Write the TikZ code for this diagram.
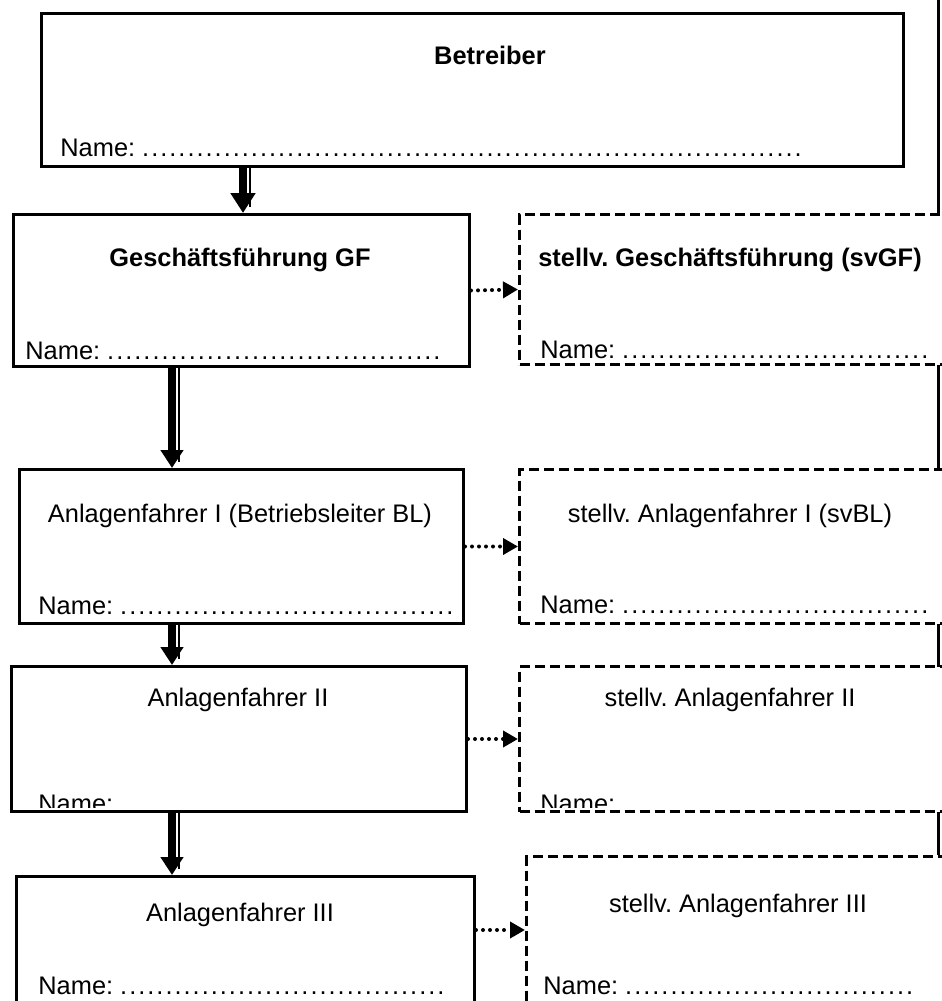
\documentclass[tikz,border=0pt]{standalone}
\usepackage{fontspec}
\setmainfont{Liberation Sans}
\usetikzlibrary{arrows.meta,calc}
\frenchspacing

% a row of #1 dots
\newcommand{\dotrow}[1]{\ifnum#1>0 .\kern1pt\expandafter\dotrow\expandafter{\number\numexpr#1-1\relax}\fi}
\newcommand{\namedots}[1]{Name:\ \dotrow{#1}}

\begin{document}
\begin{tikzpicture}[x=0.5pt,y=-0.5pt,
    every node/.style={font=\fontsize{12.7}{15}\selectfont, inner sep=0pt},
    solidbox/.style={draw, rectangle, line width=1.5pt, fill=white, anchor=north west},
    dashbox/.style={solidbox, dash pattern=on 5pt off 2.5pt},
    title/.style={anchor=base},
    namefield/.style={anchor=base west},
    downarrow/.style={line width=4pt, -{Triangle[length=9pt,width=11pt]}},
    sideline/.style={line width=1pt},
    dotarrow/.style={line width=2pt, line cap=round, dash pattern=on 0pt off 3.5pt,
      -{Triangle[length=7.5pt,width=8pt]}}]
    \useasboundingbox (0,0) rectangle (942,1001);
    \clip (0,0) rectangle (942,1001);

    % line along the right margin
    \draw[line width=1.5pt] (938,-5) -- (938,855);

    % boxes
    \node[solidbox, minimum width=431pt, minimum height=76.5pt] (betreiber) at (40,12) {};
    \node[solidbox, minimum width=228pt, minimum height=76pt] (gf) at (12,213) {};
    \node[dashbox, minimum width=225pt, minimum height=75pt] (svgf) at (518,213) {};
    \node[solidbox, minimum width=222pt, minimum height=77pt] (af1) at (18,468) {};
    \node[dashbox, minimum width=225pt, minimum height=77pt] (svaf1) at (518,468) {};
    \node[solidbox, minimum width=227.5pt, minimum height=72.5pt] (af2) at (10,665) {};
    \node[dashbox, minimum width=225pt, minimum height=72.5pt] (svaf2) at (518,665) {};
    \node[solidbox, minimum width=229pt, minimum height=80pt] (af3) at (15,875) {};
    \node[dashbox, minimum width=221.5pt, minimum height=90pt] (svaf3) at (525,855) {};

    % titles
    \node[title] (betreibert) at (490,64) {\textbf{Betreiber}};
    \node[title] (gft) at (240,266) {\textbf{Geschäftsführung GF}};
    \node[title] (svgft) at (730,266) {\textbf{stellv. Geschäftsführung (svGF)}};
    \node[title] (af1t) at (240,522) {Anlagenfahrer I (Betriebsleiter BL)};
    \node[title] (svaf1t) at (730,522) {stellv. Anlagenfahrer I (svBL)};
    \node[title] (af2t) at (238,706) {Anlagenfahrer II};
    \node[title] (svaf2t) at (730,706) {stellv. Anlagenfahrer II};
    \node[title] (af3t) at (240,921) {Anlagenfahrer III};
    \node[title] (svaf3t) at (738,912) {stellv. Anlagenfahrer III};

    % name fields
    \node[namefield] (betreibern) at (60,156) {\namedots{73}};
    \node[namefield] (gfn) at (25,359) {\namedots{37}};
    \node[namefield] (svgfn) at (540,358) {\namedots{34}};
    \node[namefield] (af1n) at (38,614) {\namedots{37}};
    \node[namefield] (svaf1n) at (540,613) {\namedots{34}};
    \begin{scope}
      \clip (10,665) rectangle (960,807);
      \node[namefield] (af2n) at (38,812) {Name:};
      \node[namefield] (svaf2n) at (540,812) {Name:};
    \end{scope}
    \node[namefield] (af3n) at (38,994) {\namedots{36}};
    \node[namefield] (svaf3n) at (543,994) {\namedots{32}};

    % arrows downwards
    \coordinate (c1) at (243,0);
    \coordinate (d1) at (250,0);
    \coordinate (c2) at (172,0);
    \coordinate (d2) at (179,0);
    \draw[downarrow, -{Triangle[length=10pt,width=12pt]}] (betreiber.south -| c1) -- (gf.north -| c1);
    \draw[sideline] (betreiber.south -| d1) -- ($(gf.north -| d1)+(0,-6)$);
    \draw[downarrow] (gf.south -| c2) -- (af1.north -| c2);
    \draw[sideline] (gf.south -| d2) -- ($(af1.north -| d2)+(0,-6)$);
    \draw[downarrow] (af1.south -| c2) -- (af2.north -| c2);
    \draw[sideline] (af1.south -| d2) -- ($(af2.north -| d2)+(0,-6)$);
    \draw[downarrow] (af2.south -| c2) -- (af3.north -| c2);
    \draw[sideline] (af2.south -| d2) -- ($(af3.north -| d2)+(0,-6)$);

    % arrows to the deputies
    \coordinate (y3) at (0,930);
    \draw[dotarrow] (gf.east) -- (svgf.west);
    \draw[dotarrow] (af1.east) -- (svaf1.west);
    \draw[dotarrow] (af2.east) -- (svaf2.west);
    \draw[dotarrow] (af3.north east |- y3) -- (svaf3.west |- y3);
  \end{tikzpicture}
\end{document}
